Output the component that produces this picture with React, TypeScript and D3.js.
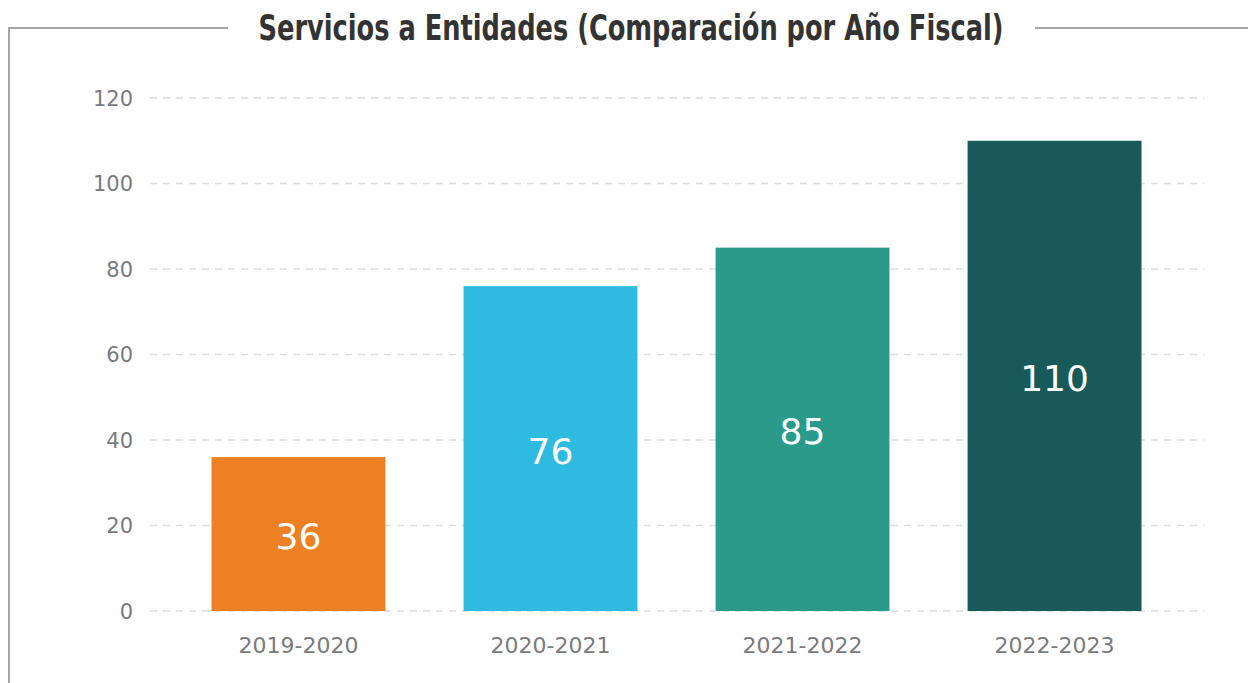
import React from "react";
import * as d3 from "d3";

const categories = ["2019-2020", "2020-2021", "2021-2022", "2022-2023"];
const values = [36, 76, 85, 110];
const colors = ["#EC8023", "#2FBBDF", "#2A9A8A", "#175A59"];
const yTicks = [0, 20, 40, 60, 80, 100, 120];
const title = "Servicios a Entidades (Comparación por Año Fiscal)";

const W = 1248;
const H = 683;

export default function App() {
  const y = d3.scaleLinear().domain([0, 120]).range([611, 98]);
  const x = d3
    .scaleBand<string>()
    .domain(categories)
    .range([150, 1203])
    .paddingInner(0.31)
    .paddingOuter(0.244);
  const font = "'DejaVu Sans', sans-serif";
  return (
    <svg
      width={W}
      height={H}
      style={{ position: "absolute", left: 0, top: 0, display: "block" }}
    >
      <rect width={W} height={H} fill="#ffffff" />
      {/* frame */}
      <path d="M9,683 V28 H228" fill="none" stroke="#a6a6a8" strokeWidth={2} />
      <path d="M1035,28 H1248" fill="none" stroke="#a6a6a8" strokeWidth={2} />
      <text
        x={631}
        y={40}
        textAnchor="middle"
        fontFamily="'DejaVu Sans Condensed', 'Liberation Sans Narrow', sans-serif"
        fontWeight={700}
        fontSize={35}
        fill="#333333"
        textLength={745}
        lengthAdjust="spacingAndGlyphs"
      >
        {title}
      </text>
      {/* grid */}
      {yTicks.map((t) => (
        <g key={t}>
          <line
            x1={150}
            x2={1204}
            y1={y(t)}
            y2={y(t)}
            stroke="#dcdcdc"
            strokeWidth={1.5}
            strokeDasharray="7,6"
          />
          <text
            x={133}
            y={y(t)}
            dy="0.36em"
            textAnchor="end"
            fontFamily={font}
            fontSize={21}
            fill="#7a7a7e"
          >
            {t}
          </text>
        </g>
      ))}
      {/* bars */}
      {categories.map((c, i) => {
        const x0 = x(c) as number;
        const bw = x.bandwidth();
        return (
          <g key={c}>
            <rect
              x={x0}
              y={y(values[i])}
              width={bw}
              height={y(0) - y(values[i])}
              fill={colors[i]}
            />
            <text
              x={x0 + bw / 2}
              y={y(values[i] / 2) + 2}
              dy="0.36em"
              textAnchor="middle"
              fontFamily={font}
              fontSize={36}
              fill="#ffffff"
            >
              {values[i]}
            </text>
            <text
              x={x0 + bw / 2}
              y={645}
              dy="0.36em"
              textAnchor="middle"
              fontFamily={font}
              fontSize={22}
              fill="#7a7a7e"
            >
              {c}
            </text>
          </g>
        );
      })}
    </svg>
  );
}
